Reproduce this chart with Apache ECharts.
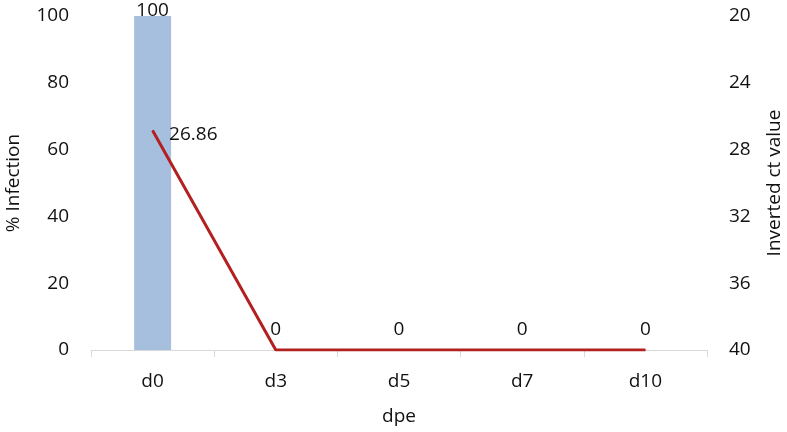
<!DOCTYPE html>
<html>
<head>
<meta charset="utf-8">
<script src="https://cdn.jsdelivr.net/npm/echarts@6/dist/echarts.min.js"></script>
<style>
  html, body { margin: 0; padding: 0; background: #fff; }
  #chart { width: 787px; height: 432px; }
</style>
</head>
<body>
<div id="chart"></div>
<script>
// 数据
const days = ['d0', 'd3', 'd5', 'd7', 'd10'];
const infection = [100, null, null, null, null];
// ct 值，0 表示未检出，画在轴底（40）
const ctRaw = [26.86, 0, 0, 0, 0];
const ctFloor = 40;

const textColor = '#111';
const fontFamily = '"Open Sans", "Noto Sans", sans-serif';
const fs = 19;

// 折线点：第一个标签放右边，其余放上方
const ctPoints = ctRaw.map((v, i) => ({
  value: v === 0 ? ctFloor : v,
  label: i === 0
    ? { show: true, position: 'right', distance: 16, offset: [0, 4] }
    : { show: true, position: 'top', distance: 10 }
}));

const chart = echarts.init(document.getElementById('chart'));
const option = {
  animation: false,
  textStyle: { fontFamily: fontFamily },
  grid: { left: 91, right: 80, top: 16, bottom: 82, outerBoundsMode: 'none', containLabel: false },
  xAxis: {
    type: 'category',
    data: days,
    name: 'dpe',
    nameLocation: 'middle',
    nameGap: 57,
    nameTextStyle: { fontSize: fs, color: textColor, fontFamily: fontFamily },
    axisLine: { lineStyle: { color: '#d9d9d9', width: 1 } },
    axisTick: { show: true, length: 7, lineStyle: { color: '#d9d9d9' } },
    axisLabel: { margin: 22, fontSize: fs, color: textColor, fontFamily: fontFamily },
    splitLine: { show: false }
  },
  yAxis: [
    {
      type: 'value',
      min: 0, max: 100, interval: 20,
      name: '% Infection',
      nameLocation: 'middle',
      nameGap: 68,
      nameTextStyle: { fontSize: fs, color: textColor, fontFamily: fontFamily },
      axisLine: { show: false },
      axisTick: { show: false },
      splitLine: { show: false },
      axisLabel: { margin: 22, fontSize: fs, color: textColor, fontFamily: fontFamily }
    },
    {
      type: 'value',
      min: 20, max: 40, interval: 4,
      inverse: true,
      name: 'Inverted ct value',
      nameLocation: 'middle',
      nameGap: 58,
      nameTextStyle: { fontSize: fs, color: textColor, fontFamily: fontFamily },
      axisLine: { show: false },
      axisTick: { show: false },
      splitLine: { show: false },
      axisLabel: { margin: 22, fontSize: fs, color: textColor, fontFamily: fontFamily }
    }
  ],
  series: [
    {
      type: 'bar',
      data: infection,
      barWidth: 37,
      itemStyle: { color: '#a7bfde' },
      label: {
        show: true, position: 'top', distance: -4,
        fontSize: fs, color: textColor, fontFamily: fontFamily
      }
    },
    {
      type: 'line',
      yAxisIndex: 1,
      data: ctPoints,
      symbol: 'circle',
      symbolSize: 1,
      showSymbol: true,
      itemStyle: { color: '#b22020' },
      lineStyle: { color: '#b22020', width: 3 },
      label: {
        show: true,
        fontSize: fs, color: textColor, fontFamily: fontFamily,
        formatter: p => String(ctRaw[p.dataIndex])
      }
    }
  ]
};
chart.setOption(option);
</script>
</body>
</html>
